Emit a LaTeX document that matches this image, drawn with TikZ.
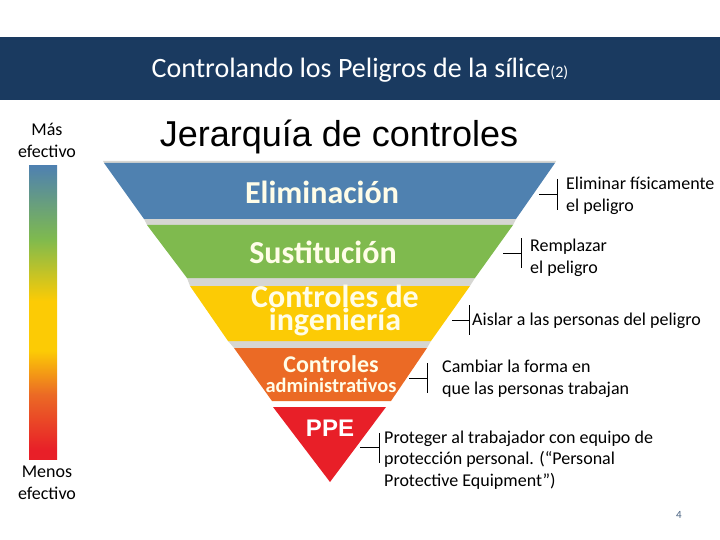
\documentclass[tikz,border=0pt]{standalone}
\usepackage{fontspec}
\setmainfont{Carlito}
\newfontfamily\arialfont{Liberation Sans}
\definecolor{bandblue}{HTML}{1A3A60}
\definecolor{tierblue}{HTML}{4F81B0}
\definecolor{tiergreen}{HTML}{7FBA4E}
\definecolor{tieryellow}{HTML}{FCCB05}
\definecolor{tierorange}{HTML}{EB6A25}
\definecolor{tierred}{HTML}{E81F28}
\definecolor{tiergap}{HTML}{D6D6D2}
\definecolor{tiertext}{HTML}{FFFDE8}
\pgfdeclareverticalshading{effectbar}{100bp}{
  color(0bp)=(tierred); color(26.5bp)=(tierred); color(36bp)=(tierorange);
  color(43.5bp)=(tieryellow); color(52bp)=(tieryellow);
  color(62.5bp)=(tiergreen); color(70bp)=(tierblue!60!tiergreen); color(75bp)=(tierblue); color(100bp)=(tierblue)}
\tikzset{
  tiername/.style={text=tiertext,inner sep=0pt,align=center},
  sidetext/.style={text=black,inner sep=0pt,align=center,font=\fontsize{18}{22}\selectfont},
  calltext/.style={text=black,inner sep=0pt,anchor=west,align=left,font=\fontsize{18}{21.5}\selectfont},
  callline/.style={draw=black,line width=0.8pt}
}
\begin{document}
\begin{tikzpicture}[x=1pt,y=-1pt]
      \useasboundingbox (0,0) rectangle (720,540);
      \fill[bandblue] (0,37) rectangle (720,100);
      \node[text=white,inner sep=0pt] (title) at (360,70) {\fontsize{28}{32}\selectfont Controlando los Peligros de la sílice{\fontsize{16}{18}\selectfont (2)}};
      \node[inner sep=0pt] (subtitle) at (339,137) {\arialfont\fontsize{36}{40}\selectfont Jerarquía de controles};
      % effectiveness bar
      \shade[shading=effectbar] (29,166) rectangle (57,459);
      \node[sidetext] (best) at (47,140) {Más\\efectivo};
      \node[sidetext] (worst) at (47,483) {Menos\\efectivo};
      % gaps
      \fill[tiergap] (103,161) -- (556,161) -- (555,163) -- (104,163) -- cycle;
      \fill[tiergap] (144,219) -- (516,219) -- (513,225) -- (147,225) -- cycle;
      \fill[tiergap] (187,278) -- (475,278) -- (470,286) -- (190,286) -- cycle;
      \fill[tiergap] (228,341) -- (431,341) -- (427,348) -- (234,348) -- cycle;
      % tiers
      \fill[tierblue] (104,163) -- (555,163) -- (516,219) -- (144,219) -- cycle;
      \fill[tiergreen] (147,225) -- (513,225) -- (475,278) -- (187,278) -- cycle;
      \fill[tieryellow] (190,286) -- (470,286) -- (431,341) -- (228,341) -- cycle;
      \fill[tierorange] (234,348) -- (427,348) -- (391,401) -- (272,401) -- cycle;
      \fill[tierred] (273,407) -- (386,407) -- (330,482) -- cycle;
      \node[tiername,font=\bfseries\fontsize{32}{32}\selectfont] (elim) at (322,192) {Eliminación};
      \node[tiername,font=\bfseries\fontsize{32}{32}\selectfont] (sust) at (323,252) {Sustitución};
      \node[tiername,font=\bfseries\fontsize{32}{23}\selectfont] (inge) at (335,310) {Controles de\\ingeniería};
      \node[tiername,font=\bfseries\fontsize{24}{26}\selectfont] (cont) at (331,364) {Controles};
      \node[tiername,font=\bfseries\fontsize{20.4}{22}\selectfont] (admi) at (331,385) {administrativos};
      \node[tiername,text=white,font=\arialfont\bfseries\fontsize{24}{26}\selectfont] (ppe) at (330,428) {PPE};
      % callouts
      \node[calltext] (elimtext) at (566,196) {Eliminar físicamente\\el peligro};
      \node[calltext] (susttext) at (530,258) {Remplazar\\el peligro};
      \node[calltext] (ingetext) at (472,321) {Aislar a las personas del peligro};
      \node[calltext] (conttext) at (442,379) {Cambiar la forma en\\que las personas trabajan};
      \node[calltext] (ppetext) at (384,460) {Proteger al trabajador con equipo de\\protección personal. (“Personal\\Protective Equipment”)};
      \coordinate (elimtip) at (539,194); \coordinate (elimmid) at (557,194);
      \coordinate (elimtop) at (557,179); \coordinate (elimbot) at (557,210);
      \coordinate (susttip) at (503,253); \coordinate (sustmid) at (521,253);
      \coordinate (susttop) at (521,238); \coordinate (sustbot) at (521,268);
      \coordinate (ingetip) at (452,320); \coordinate (ingemid) at (469,320);
      \coordinate (ingetop) at (469,305); \coordinate (ingebot) at (469,335);
      \coordinate (conttip) at (409,378); \coordinate (contmid) at (427,378);
      \coordinate (conttop) at (427,363); \coordinate (contbot) at (427,393);
      \coordinate (ppetip) at (360,447); \coordinate (ppemid) at (379,447);
      \coordinate (ppetop) at (379,433); \coordinate (ppebot) at (379,463);
      \draw[callline] (elimtip) -- (elimmid); \draw[callline] (elimtop) -- (elimbot);
      \draw[callline] (susttip) -- (sustmid); \draw[callline] (susttop) -- (sustbot);
      \draw[callline] (ingetip) -- (ingemid); \draw[callline] (ingetop) -- (ingebot);
      \draw[callline] (conttip) -- (contmid); \draw[callline] (conttop) -- (contbot);
      \draw[callline] (ppetip) -- (ppemid); \draw[callline] (ppetop) -- (ppebot);
      \node[inner sep=0pt,text=bandblue!80!white,font=\fontsize{11}{13}\selectfont] (pagenum) at (679,515) {4};
\end{tikzpicture}
\end{document}
